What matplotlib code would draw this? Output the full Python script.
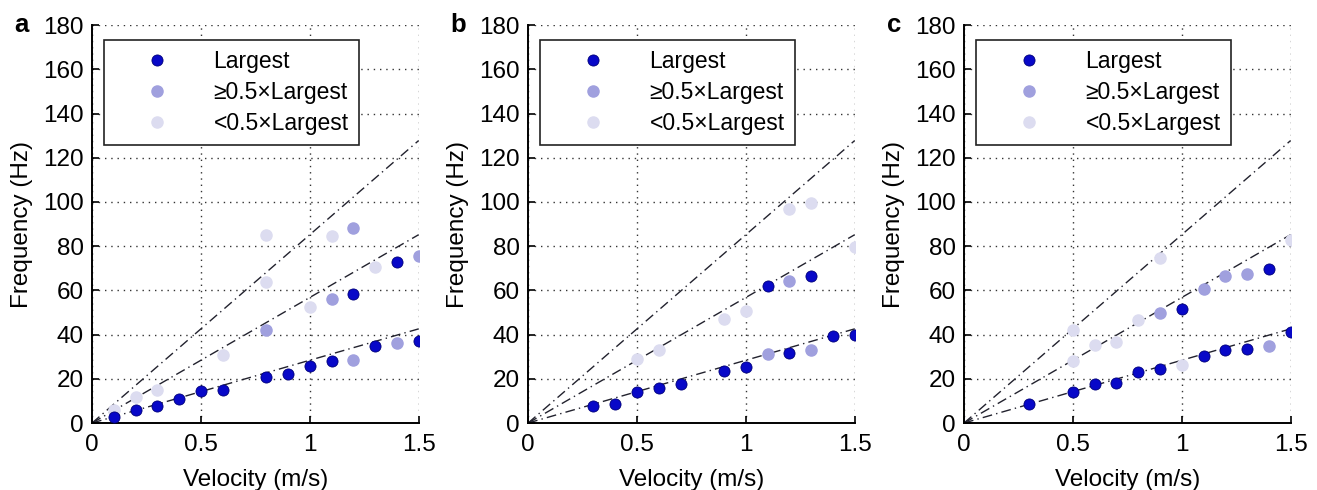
import matplotlib
matplotlib.use('Agg')
import matplotlib.pyplot as plt

plt.rcParams['font.family'] = ['Liberation Sans', 'DejaVu Sans']

# Data (velocity m/s, frequency Hz)
# panel a
a_large_x = [0.1, 0.2, 0.3, 0.4, 0.5, 0.6, 0.8, 0.9, 1.0, 1.1, 1.2, 1.3, 1.4, 1.5]
a_large_y = [2.5, 5.7, 7.5, 10.8, 14.3, 14.9, 20.8, 22.1, 26.0, 27.9, 58.4, 34.9, 73.0, 37.3]
a_half_x = [0.8, 1.1, 1.2, 1.2, 1.4, 1.5]
a_half_y = [42.2, 56.0, 88.0, 28.6, 36.1, 75.6]
a_small_x = [0.1, 0.2, 0.3, 0.6, 0.8, 0.8, 1.0, 1.1, 1.3]
a_small_y = [6.0, 11.7, 15.0, 30.9, 63.7, 85.0, 52.4, 84.5, 70.8]

# panel b
b_large_x = [0.3, 0.4, 0.5, 0.6, 0.7, 0.9, 1.0, 1.1, 1.2, 1.3, 1.4, 1.5]
b_large_y = [7.6, 8.8, 14.2, 15.9, 17.7, 23.6, 25.2, 61.8, 31.9, 66.4, 39.5, 39.6]
b_half_x = [1.1, 1.2, 1.3]
b_half_y = [31.0, 64.2, 32.9]
b_small_x = [0.5, 0.6, 0.9, 1.0, 1.2, 1.3, 1.5]
b_small_y = [29.0, 32.9, 47.1, 50.6, 96.7, 99.7, 79.6]

# panel c
c_large_x = [0.3, 0.5, 0.6, 0.7, 0.8, 0.9, 1.0, 1.1, 1.2, 1.3, 1.4, 1.5]
c_large_y = [8.8, 14.2, 17.7, 18.3, 23.0, 24.6, 51.8, 30.5, 32.9, 33.5, 69.9, 41.2]
c_half_x = [0.9, 1.1, 1.2, 1.3, 1.4]
c_half_y = [49.8, 60.7, 66.4, 67.6, 34.7]
c_small_x = [0.5, 0.5, 0.6, 0.7, 0.8, 0.9, 1.0, 1.5]
c_small_y = [42.3, 28.2, 35.5, 36.6, 46.5, 74.6, 26.3, 82.6]

# reference lines f = k * v through the origin
line_slopes = [28.4, 56.8, 85.2]
line_v = [0, 1.5]

panel_labels = ['a', 'b', 'c']
legend_labels = ['Largest', '\u22650.5\u00d7Largest', '<0.5\u00d7Largest']
x_ticks = [0, 0.5, 1, 1.5]
x_ticklabels = ['0', '0.5', '1', '1.5']
y_ticks = list(range(0, 181, 20))

col_large = '#0808C8'
col_half = '#A0A0DE'
col_small = '#DCDCF0'

fig = plt.figure(figsize=(13.17, 4.9), dpi=100)
lefts = [0.0699, 0.401, 0.732]
panels = [
    (a_large_x, a_large_y, a_half_x, a_half_y, a_small_x, a_small_y),
    (b_large_x, b_large_y, b_half_x, b_half_y, b_small_x, b_small_y),
    (c_large_x, c_large_y, c_half_x, c_half_y, c_small_x, c_small_y),
]


def draw_panel(ax, data, label):
    lx, ly, hx, hy, sx, sy = data
    for k in line_slopes:
        ax.plot(line_v, [k * v for v in line_v], color='#22222e', lw=1.0,
                linestyle=(0, (7, 3, 1, 3)), zorder=2)
    ax.plot(lx, ly, 'o', color=col_large, mec='#00007a', mew=0.6, ms=8,
            label=legend_labels[0], zorder=5)
    ax.plot(hx, hy, 'o', color=col_half, mec=col_half, ms=8,
            label=legend_labels[1], zorder=4)
    ax.plot(sx, sy, 'o', color=col_small, mec=col_small, ms=8,
            label=legend_labels[2], zorder=3)

    ax.set_xlim(0, 1.5)
    ax.set_ylim(0, 180)
    ax.set_xticks(x_ticks)
    ax.set_xticklabels(x_ticklabels)
    ax.set_yticks(y_ticks)
    ax.grid(True, color='#333333', linestyle=(0, (1, 3.5)), linewidth=1.0)
    ax.spines['top'].set_visible(False)
    ax.spines['right'].set_visible(False)
    ax.spines['left'].set_linewidth(1.4)
    ax.spines['bottom'].set_linewidth(1.4)
    ax.tick_params(direction='in', length=5, width=1.2, labelsize=17.5)
    ax.tick_params(axis='x', pad=8)
    ax.tick_params(axis='y', pad=6)
    ax.set_xlabel('Velocity (m/s)', fontsize=17.5, labelpad=9)
    ax.set_ylabel('Frequency (Hz)', fontsize=17.5, labelpad=7)
    ax.text(-0.215, 1.0, label, transform=ax.transAxes, fontsize=18.5,
            fontweight='bold', ha='center', va='center')

    leg = ax.legend(loc='upper left', bbox_to_anchor=(0.037, 0.962),
                    borderaxespad=0, fontsize=16.5, handlelength=3.76,
                    handletextpad=0.57, borderpad=0.44, labelspacing=0.35,
                    fancybox=False, framealpha=1, edgecolor='#222222')
    leg.get_frame().set_linewidth(1.2)


for left, data, lab in zip(lefts, panels, panel_labels):
    ax = fig.add_axes([left, 0.1367, 0.248, 0.812])
    draw_panel(ax, data, lab)

plt.savefig('out.png', dpi=100)
